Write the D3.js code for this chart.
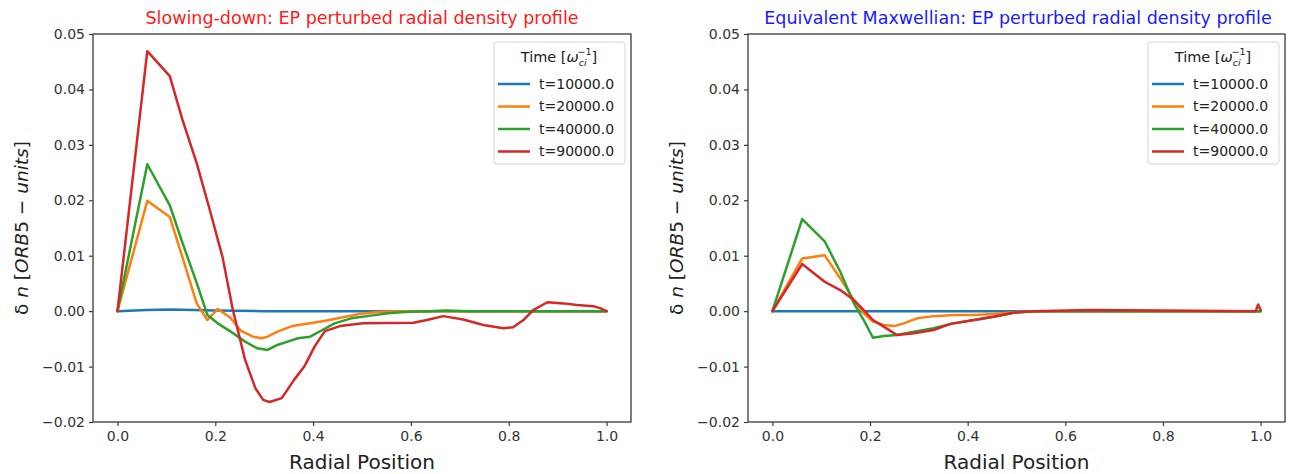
<!DOCTYPE html>
<html>
<head>
<meta charset="utf-8">
<script src="https://cdn.jsdelivr.net/npm/d3@7"></script>
<style>
  body { margin: 0; background: #fff; }
  svg { display: block; font-family: "DejaVu Sans", sans-serif; }
</style>
</head>
<body>
<svg id="chart" width="1290" height="474"></svg>
<script>
// legend labels and colours (matplotlib tab10)
const seriesNames = ['t=10000.0', 't=20000.0', 't=40000.0', 't=90000.0'];
const seriesColors = ['#1f77b4', '#ff7f0e', '#2ca02c', '#d62728'];

const xTicks = [0, 0.2, 0.4, 0.6, 0.8, 1.0];
const yTicks = [-0.02, -0.01, 0, 0.01, 0.02, 0.03, 0.04, 0.05];

// slowing-down panel, [radial position, delta n]
const sdBlue = [[0, 0], [0.06, 0.0002], [0.11, 0.0003], [0.2, 0.0001], [0.3, 0], [1.0, 0]];
const sdOrange = [[0, 0], [0.061, 0.0199], [0.107, 0.0170], [0.133, 0.0097], [0.162, 0.0014],
  [0.184, -0.0016], [0.205, 0.0004], [0.230, -0.0011], [0.252, -0.0035], [0.277, -0.0046],
  [0.294, -0.0049], [0.307, -0.0046], [0.327, -0.0037], [0.357, -0.0027], [0.394, -0.0022],
  [0.428, -0.0017], [0.461, -0.0011], [0.495, -0.0005], [0.536, -0.0001], [0.578, 0], [1.0, 0]];
const sdGreen = [[0, 0], [0.061, 0.0265], [0.107, 0.0191], [0.133, 0.0123], [0.162, 0.0051],
  [0.184, -0.0007], [0.205, -0.0022], [0.230, -0.0036], [0.261, -0.0055], [0.286, -0.0067],
  [0.307, -0.0070], [0.327, -0.0061], [0.348, -0.0055], [0.369, -0.0049], [0.394, -0.0046],
  [0.419, -0.0034], [0.444, -0.0022], [0.478, -0.0013], [0.511, -0.0009], [0.553, -0.0004],
  [0.595, -0.0001], [0.637, 0], [0.670, 0.0001], [0.72, 0], [1.0, 0]];
const sdRed = [[0, 0], [0.061, 0.0469], [0.107, 0.0424], [0.133, 0.0345], [0.162, 0.0267],
  [0.189, 0.0182], [0.215, 0.0097], [0.236, 0.0002], [0.261, -0.0088], [0.282, -0.0139],
  [0.298, -0.0160], [0.311, -0.0164], [0.336, -0.0157], [0.361, -0.0124], [0.382, -0.0100],
  [0.403, -0.0064], [0.424, -0.0036], [0.455, -0.0027], [0.502, -0.0022], [0.605, -0.0021],
  [0.633, -0.0016], [0.666, -0.0009], [0.707, -0.0015], [0.748, -0.0025], [0.789, -0.0031],
  [0.809, -0.0029], [0.830, -0.0016], [0.850, 0.0002], [0.879, 0.0016], [0.912, 0.0014],
  [0.940, 0.0011], [0.973, 0.0009], [0.988, 0.0005], [1.0, 0]];

// equivalent Maxwellian panel
const emBlue = [[0, 0], [0.5, 0], [1.0, 0]];
const emOrange = [[0, 0], [0.061, 0.0095], [0.107, 0.0101], [0.139, 0.0059], [0.167, 0.0020],
  [0.187, -0.0004], [0.206, -0.0019], [0.228, -0.0025], [0.249, -0.0027], [0.269, -0.0022],
  [0.296, -0.0013], [0.330, -0.0009], [0.372, -0.0007], [0.413, -0.0007], [0.453, -0.0005],
  [0.494, -0.0002], [0.535, 0], [1.0, 0]];
const emGreen = [[0, 0], [0.061, 0.0166], [0.107, 0.0126], [0.139, 0.0071], [0.167, 0.0014],
  [0.187, -0.0016], [0.206, -0.0048], [0.228, -0.0045], [0.255, -0.0043], [0.290, -0.0037],
  [0.330, -0.0031], [0.365, -0.0023], [0.413, -0.0016], [0.453, -0.0010], [0.494, -0.0003],
  [0.535, 0], [1.0, 0]];
const emRed = [[0, 0], [0.061, 0.0085], [0.107, 0.0053], [0.139, 0.0038], [0.167, 0.0020],
  [0.187, 0.0002], [0.206, -0.0016], [0.228, -0.0028], [0.255, -0.0043], [0.290, -0.0040],
  [0.330, -0.0034], [0.365, -0.0023], [0.413, -0.0016], [0.453, -0.0010], [0.494, -0.0003],
  [0.535, 0], [0.65, 0.0002], [0.8, 0.0001], [0.99, 0], [0.995, 0.0012], [1.0, 0.0002]];

const svg = d3.select('#chart');
const fmtY = v => d3.format('.2f')(v).replace('-', '\u2212');
const fmtX = d3.format('.1f');

function drawPanel(opts) {
    const x = d3.scaleLinear().domain([-0.05, 1.05]).range([opts.left, opts.right]);
    const y = d3.scaleLinear().domain([-0.02, 0.05]).range([422, 34]);
    const g = svg.append('g');

    // lines
    const line = d3.line().x(d => x(d[0])).y(d => y(d[1]));
    opts.series.forEach((s, i) => {
        g.append('path')
            .attr('d', line(s))
            .attr('fill', 'none')
            .attr('stroke', seriesColors[i])
            .attr('stroke-width', 2.5)
            .attr('stroke-linejoin', 'round')
            .attr('stroke-linecap', 'round');
    });

    // axes
    const xAxis = g.append('g').attr('transform', `translate(0,${y.range()[0]})`)
        .call(d3.axisBottom(x).tickValues(xTicks).tickFormat(fmtX).tickSize(4).tickPadding(5));
    const yAxis = g.append('g').attr('transform', `translate(${opts.left},0)`)
        .call(d3.axisLeft(y).tickValues(yTicks).tickFormat(fmtY).tickSize(4).tickPadding(4));
    [xAxis, yAxis].forEach(a => {
        a.select('.domain').remove();
        a.selectAll('line').attr('stroke', '#3a3a3a').attr('stroke-width', 1.2);
        a.selectAll('text').attr('fill', '#333').style('font-size', '14px')
            .style('font-family', '"DejaVu Sans", sans-serif');
    });

    // frame
    g.append('rect')
        .attr('x', opts.left).attr('y', y.range()[1])
        .attr('width', opts.right - opts.left).attr('height', y.range()[0] - y.range()[1])
        .attr('fill', 'none').attr('stroke', '#3a3a3a').attr('stroke-width', 1.3);

    // title
    g.append('text')
        .attr('x', opts.titleX).attr('y', 24)
        .attr('text-anchor', 'middle')
        .attr('fill', opts.titleColor)
        .style('font-size', '17.5px')
        .text(opts.title);

    // x label
    g.append('text')
        .attr('x', (opts.left + opts.right) / 2).attr('y', 469)
        .attr('text-anchor', 'middle')
        .attr('fill', '#222')
        .style('font-size', '20px')
        .text('Radial Position');

    // y label (mathtext look)
    const yl = g.append('text')
        .attr('transform', `translate(${opts.left - 65},228) rotate(-90)`)
        .attr('text-anchor', 'middle')
        .attr('fill', '#222')
        .style('font-size', '18.5px');
    yl.append('tspan').text('\u03b4');
    yl.append('tspan').style('font-style', 'italic').text(' n ');
    yl.append('tspan').text('[');
    yl.append('tspan').style('font-style', 'italic').text('ORB');
    yl.append('tspan').text('5 \u2212 ');
    yl.append('tspan').style('font-style', 'italic').text('units');
    yl.append('tspan').text(']');

    // legend
    const lx = opts.right - 137, ly = 42;
    const leg = g.append('g').attr('transform', `translate(${lx},${ly})`);
    leg.append('rect')
        .attr('width', 131).attr('height', 122).attr('rx', 3)
        .attr('fill', '#fff').attr('fill-opacity', 0.85)
        .attr('stroke', '#d5d5d5').attr('stroke-width', 1);
    const lt = leg.append('text')
        .attr('x', 65).attr('y', 20)
        .attr('text-anchor', 'middle')
        .attr('fill', '#222')
        .style('font-size', '14.5px');
    lt.append('tspan').text('Time [');
    lt.append('tspan').style('font-style', 'italic').text('\u03c9');
    lt.append('tspan').style('font-style', 'italic').style('font-size', '9.5px').attr('dy', 4).text('ci');
    lt.append('tspan').style('font-size', '9.5px').attr('dx', -9).attr('dy', -11).text('\u22121');
    lt.append('tspan').attr('dy', 7).text(']');

    seriesNames.forEach((name, i) => {
        const ry = 42 + i * 22.5;
        leg.append('line')
            .attr('x1', 4).attr('x2', 36).attr('y1', ry).attr('y2', ry)
            .attr('stroke', seriesColors[i]).attr('stroke-width', 2.5);
        leg.append('text')
            .attr('x', 45).attr('y', ry)
            .attr('dy', '0.35em')
            .attr('fill', '#222')
            .style('font-size', '14px')
            .text(name);
    });
}

drawPanel({
    left: 93, right: 631, titleX: 362, titleColor: '#ff1a1a',
    title: 'Slowing-down: EP perturbed radial density profile',
    series: [sdBlue, sdOrange, sdGreen, sdRed]
});
drawPanel({
    left: 748, right: 1285, titleX: 1018, titleColor: '#1a1aff',
    title: 'Equivalent Maxwellian: EP perturbed radial density profile',
    series: [emBlue, emOrange, emGreen, emRed]
});
</script>
</body>
</html>
